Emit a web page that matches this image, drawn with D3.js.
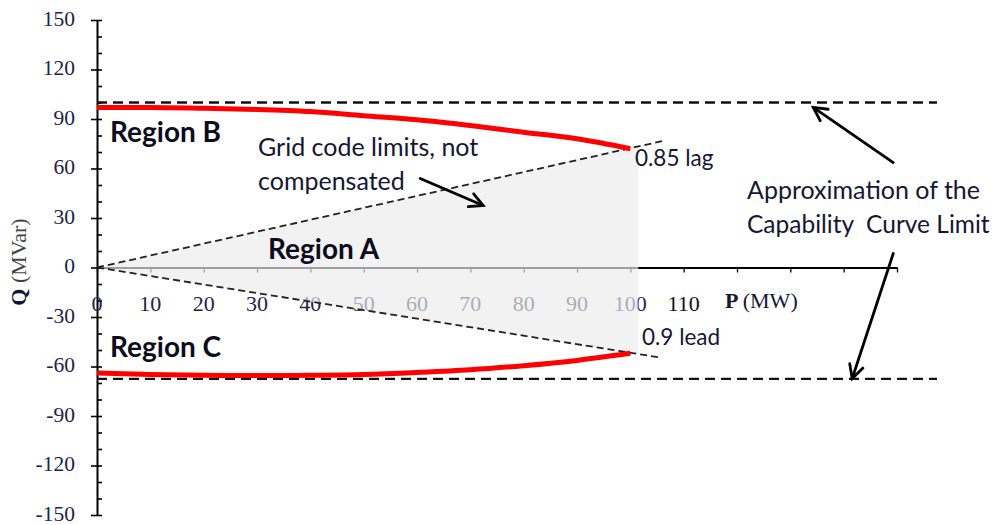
<!DOCTYPE html>
<html>
<head>
<meta charset="utf-8">
<script src="https://cdn.jsdelivr.net/npm/d3@7/dist/d3.min.js"></script>
<style>
  html, body { margin: 0; padding: 0; background: #fff; }
  svg { display: block; }
  text { white-space: pre; }
</style>
</head>
<body>
<svg id="chart" width="996" height="525"></svg>
<script>
// ---------------- data ----------------
const yTicks = [-150, -120, -90, -60, -30, 0, 30, 60, 90, 120, 150];
const yMinorTicks = d3.range(-150, 151, 10);
const xTicks = [0, 10, 20, 30, 40, 50, 60, 70, 80, 90, 100, 110, 120, 130, 140, 150];
const xTickLabels = [0, 10, 20, 30, 40, 50, 60, 70, 80, 90, 100, 110];

// capability curve (red)
const curveP = [0, 10, 20, 30, 40, 50, 60, 70, 80, 90, 100];
const upperQ = [97, 97, 96.5, 95.8, 94.5, 92, 89.5, 86, 82, 78, 72];
const lowerQ = [-64, -64.8, -65.3, -65.5, -65.3, -64.8, -63.6, -62, -59.5, -56.3, -52];

// approximation of capability limits (dashed horizontal)
const limitP = [0, 157.5];
const limitUpperQ = [100, 100];
const limitLowerQ = [-67.5, -67.5];

// grid code power-factor lines
const lagP = [0, 106.5];
const lagQ = [0, 77];
const leadP = [0, 105.5];
const leadQ = [0, -54.5];

// grid code region fill (Region A)
const fillP = [0, 101.5, 101.5];
const fillQ = [0, 74, -52.7];

// annotation arrows (tail -> head)
const arrowStartP = [60.6, 149.3, 149.3];
const arrowStartQ = [53.9, 63.6, 8.5];
const arrowEndP = [72.4, 134.3, 141.6];
const arrowEndQ = [37.6, 97, -67.3];

// ---------------- drawing ----------------
const svg = d3.select("#chart");
const x = d3.scaleLinear().domain([0, 150]).range([97, 897]);
const y = d3.scaleLinear().domain([-150, 150]).range([515, 20]);

const labelColor = "#23234a";
const textColor = "#161633";
const annFont = "Lato, 'Open Sans', sans-serif";
const serif = "'Liberation Serif', 'DejaVu Serif', serif";

// ---- Y axis ----
const gY = svg.append("g").attr("transform", `translate(${x(0)},0)`);
gY.call(d3.axisLeft(y).tickValues(yTicks).tickSizeInner(6).tickSizeOuter(0).tickPadding(16).tickFormat(d => String(d)));
gY.append("g").call(d3.axisRight(y).tickValues(yMinorTicks).tickSize(5).tickFormat("")).select(".domain").remove();
gY.selectAll("line").attr("stroke", "#000").attr("stroke-width", 1.6);
gY.select(".domain").attr("stroke", "#000").attr("stroke-width", 2);
gY.selectAll("text").attr("font-family", serif).attr("font-size", 21.5).attr("dy", "0.24em").attr("fill", labelColor);

// ---- X axis ----
const gX = svg.append("g").attr("transform", `translate(0,${y(0)})`);
gX.call(d3.axisBottom(x).tickValues(xTicks).tickSizeInner(5).tickSizeOuter(0).tickFormat(""));
gX.selectAll("line").attr("stroke", "#000").attr("stroke-width", 1.3);
gX.select(".domain").attr("stroke", "#000").attr("stroke-width", 1.8);

svg.append("g").selectAll("text").data(xTickLabels).join("text")
  .attr("x", d => x(d)).attr("y", 311)
  .attr("text-anchor", "middle")
  .attr("font-family", serif).attr("font-size", 22)
  .attr("fill", d => d === 110 ? "#101020" : labelColor)
  .text(d => String(d));

// axis titles
const pTitle = svg.append("text").attr("x", 725).attr("y", 308)
  .attr("font-family", serif).attr("font-size", 22).attr("fill", textColor);
pTitle.append("tspan").attr("font-weight", "bold").text("P ");
pTitle.append("tspan").text("(MW)");

const qTitle = svg.append("text")
  .attr("transform", `translate(26,262) rotate(-90)`)
  .attr("text-anchor", "middle")
  .attr("font-family", serif).attr("font-size", 22).attr("fill", textColor);
qTitle.append("tspan").attr("font-weight", "bold").text("Q ");
qTitle.append("tspan").attr("fill", "#444").text("(MVar)");

// ---- Region A fill (semi-transparent, lightens what is under it) ----
svg.append("path")
  .datum(fillP.map((p, i) => [p, fillQ[i]]))
  .attr("d", d3.line().x(d => x(d[0])).y(d => y(d[1])).curve(d3.curveLinearClosed))
  .attr("fill", "#ececec").attr("fill-opacity", 0.68);

// ---- grid code dashed lines ----
const line2 = (ps, qs) => d3.line().x(d => x(d[0])).y(d => y(d[1]))(ps.map((p, i) => [p, qs[i]]));
svg.append("path").attr("d", line2(lagP, lagQ))
  .attr("fill", "none").attr("stroke", "#222").attr("stroke-width", 1.8).attr("stroke-dasharray", "7,4");
svg.append("path").attr("d", line2(leadP, leadQ))
  .attr("fill", "none").attr("stroke", "#222").attr("stroke-width", 1.8).attr("stroke-dasharray", "7,4");

// ---- capability approximation dashed lines ----
svg.append("path").attr("d", line2(limitP, limitUpperQ))
  .attr("fill", "none").attr("stroke", "#111").attr("stroke-width", 2.4).attr("stroke-dasharray", "10,6");
svg.append("path").attr("d", line2(limitP, limitLowerQ))
  .attr("fill", "none").attr("stroke", "#111").attr("stroke-width", 2.4).attr("stroke-dasharray", "10,6");

// ---- red capability curves ----
const curve = d3.line().x(d => x(d[0])).y(d => y(d[1])).curve(d3.curveMonotoneX);
svg.append("path").datum(curveP.map((p, i) => [p, upperQ[i]]))
  .attr("d", curve).attr("fill", "none").attr("stroke", "#ff0000").attr("stroke-width", 5);
svg.append("path").datum(curveP.map((p, i) => [p, lowerQ[i]]))
  .attr("fill", "none").attr("d", curve).attr("stroke", "#ff0000").attr("stroke-width", 5);

// ---- texts ----
const regionText = [
  { t: "Region B", px: 110, py: 142 },
  { t: "Region A", px: 268, py: 259 },
  { t: "Region C", px: 110, py: 357 }
];
svg.append("g").selectAll("text").data(regionText).join("text")
  .attr("x", d => d.px).attr("y", d => d.py)
  .attr("font-family", annFont).attr("font-weight", "bold").attr("font-size", 28)
  .attr("fill", "#0c0c1c").text(d => d.t);

const annText = [
  { t: "Grid code limits, not", px: 258, py: 156, fs: 25 },
  { t: "compensated", px: 258, py: 190, fs: 25 },
  { t: "0.85 lag", px: 635, py: 166, fs: 22.5 },
  { t: "0.9 lead", px: 642, py: 345, fs: 22.5 },
  { t: "Approximation of the", px: 747, py: 199, fs: 25 },
  { t: "Capability  Curve Limit", px: 747, py: 233, fs: 24.5 }
];
svg.append("g").selectAll("text").data(annText).join("text")
  .attr("x", d => d.px).attr("y", d => d.py)
  .attr("font-family", annFont).attr("font-size", d => d.fs)
  .attr("fill", textColor).text(d => d.t);

// ---- arrows ----
const ag = svg.append("g").attr("stroke", "#000").attr("stroke-width", 2.8).attr("fill", "none").attr("stroke-linecap", "round");
arrowStartP.forEach((p0, i) => {
  const x0 = x(p0), y0 = y(arrowStartQ[i]), x1 = x(arrowEndP[i]), y1 = y(arrowEndQ[i]);
  ag.append("line").attr("x1", x0).attr("y1", y0).attr("x2", x1).attr("y2", y1);
  const ang = Math.atan2(y1 - y0, x1 - x0);
  const L = 15, spread = Math.PI / 6.5;
  const pts = [
    [x1 - L * Math.cos(ang - spread), y1 - L * Math.sin(ang - spread)],
    [x1, y1],
    [x1 - L * Math.cos(ang + spread), y1 - L * Math.sin(ang + spread)]
  ];
  ag.append("path").attr("d", d3.line()(pts)).attr("stroke-linejoin", "miter");
});
</script>
</body>
</html>
